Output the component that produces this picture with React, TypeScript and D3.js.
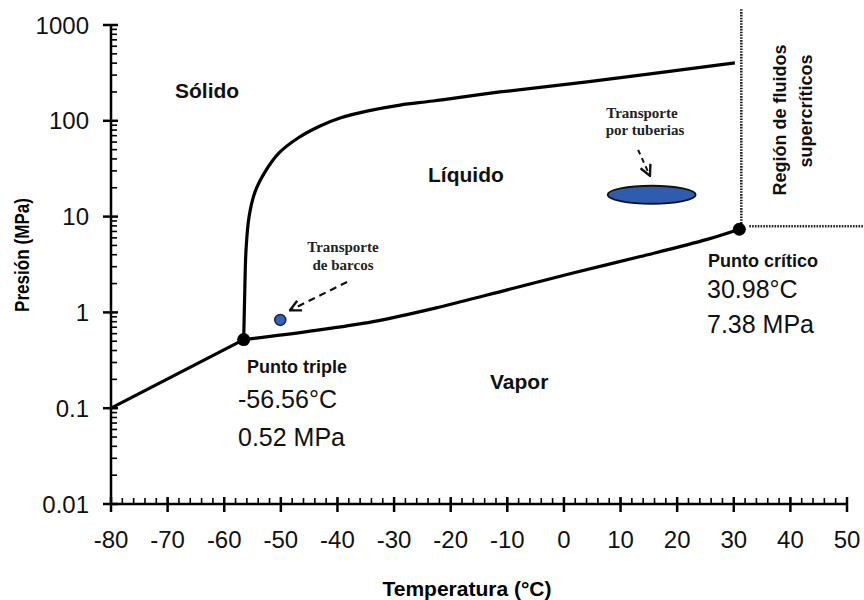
import React from 'react'
import * as d3 from 'd3'

// Diagrama de fases del CO2 (presión en escala logarítmica)

const tempTicks = d3.range(-80, 51, 10)
const tempMinorTicks = d3.range(-80, 51, 2)
const presTicks = [0.01, 0.1, 1, 10, 100, 1000]
const presTickLabels = ['0.01', '0.1', '1', '10', '100', '1000']

// curva sólido-vapor (sublimación)
const sublimation: [number, number][] = [
  [-80, 0.1],
  [-56.56, 0.52],
]

// curva sólido-líquido (fusión)
const melting: [number, number][] = [
  [-56.56, 0.52], [-56.4, 1.4], [-56.15, 4.49], [-55.62, 9.93], [-54.56, 18.1],
  [-52.79, 29.3], [-50.32, 46.2], [-46.96, 66.2], [-43.07, 88.3], [-39.54, 107],
  [-34.59, 127], [-28.94, 146], [-23.1, 161], [-11.3, 200], [4.1, 255], [30.2, 402],
]

// curva líquido-vapor (vaporización)
const vaporization: [number, number][] = [
  [-56.56, 0.52], [-45.4, 0.63], [-33.7, 0.8], [-21.9, 1.14], [-10, 1.72],
  [1.6, 2.58], [13.5, 3.83], [25.3, 5.78], [30.98, 7.38],
]

const triplePoint: [number, number] = [-56.56, 0.52]
const criticalPoint: [number, number] = [30.98, 7.38]

// zonas de transporte
const shipPoint: [number, number] = [-50.1, 0.835]
const pipeZone: [number, number] = [15.5, 16.9]
const shipArrow: [number, number][] = [[-38.3, 2.08], [-48.4, 1.05]]
const pipeArrow: [number, number][] = [[13.1, 49.7], [15.2, 26.6]]

const W = 864
const H = 600
const sans = 'Liberation Sans, Arial, sans-serif'
const serif = 'Liberation Serif, Times New Roman, serif'

export default function App() {
  const x = d3.scaleLinear().domain([-80, 50]).range([111, 847])
  const y = d3.scaleLog().domain([0.01, 1000]).range([504, 25])

  const line = d3.line<[number, number]>()
    .x(d => x(d[0]))
    .y(d => y(d[1]))
  const smooth = d3.line<[number, number]>()
    .x(d => x(d[0]))
    .y(d => y(d[1]))
    .curve(d3.curveCatmullRom.alpha(0.5))

  const yMinor: number[] = []
  for (let e = -2; e < 3; e++) {
    for (let k = 2; k <= 9; k++) yMinor.push(k * Math.pow(10, e))
  }

  const cx = x(criticalPoint[0])
  const cy = y(criticalPoint[1])

  return (
    <svg width={W} height={H} style={{ position: 'absolute', left: 0, top: 0, background: '#fff' }}
      fontFamily={sans}>
      <defs>
        <marker id="chev" viewBox="0 0 12 12" refX="11" refY="6" markerWidth="13" markerHeight="13"
          markerUnits="userSpaceOnUse" orient="auto">
          <path d="M1,1 L11,6 L1,11" fill="none" stroke="#111" strokeWidth="2.2" />
        </marker>
      </defs>

      {/* líneas punteadas de la región supercrítica */}
      <line x1={cx + 2} x2={cx + 2} y1={cy} y2={8} stroke="#222" strokeWidth={2.6} strokeDasharray="1.6,1.2" />
      <line x1={cx + 10} x2={W} y1={cy - 3} y2={cy - 3} stroke="#222" strokeWidth={2.6} strokeDasharray="1.6,1.2" />

      {/* ejes */}
      <line x1={x(-80)} x2={x(-80)} y1={y(1000)} y2={y(0.01)} stroke="#000" strokeWidth={2.5} />
      <line x1={x(-80)} x2={x(50)} y1={y(0.01)} y2={y(0.01)} stroke="#000" strokeWidth={2.5} />
      {yMinor.map((v, i) => (
        <line key={'ym' + i} x1={x(-80)} x2={x(-80) + 6} y1={y(v)} y2={y(v)} stroke="#000" strokeWidth={1.6} />
      ))}
      {presTicks.map((v, i) => (
        <g key={'yt' + i}>
          <line x1={x(-80) - 8} x2={x(-80) + 7} y1={y(v)} y2={y(v)} stroke="#000" strokeWidth={2.5} />
          <text x={89} y={y(v) + 8.5} textAnchor="end" fontSize={24} fill="#111">{presTickLabels[i]}</text>
        </g>
      ))}
      {tempMinorTicks.map((v, i) => (
        <line key={'xm' + i} x1={x(v)} x2={x(v)} y1={y(0.01)} y2={y(0.01) - 6} stroke="#000" strokeWidth={1.6} />
      ))}
      {tempTicks.map((v, i) => (
        <g key={'xt' + i}>
          <line x1={x(v)} x2={x(v)} y1={y(0.01) - 7} y2={y(0.01) + 8} stroke="#000" strokeWidth={2.5} />
          <text x={x(v)} y={548} textAnchor="middle" fontSize={24} fill="#111">{v}</text>
        </g>
      ))}

      <text transform="translate(29,255) rotate(-90)" textAnchor="middle" fontSize={20} fontWeight="bold"
        textLength={114} lengthAdjust="spacingAndGlyphs">Presión (MPa)</text>
      <text x={467} y={596} textAnchor="middle" fontSize={21} fontWeight="bold">Temperatura (°C)</text>

      {/* curvas de equilibrio */}
      <path d={line(sublimation) || ''} fill="none" stroke="#000" strokeWidth={3.2} />
      <path d={smooth(melting) || ''} fill="none" stroke="#000" strokeWidth={3.2} />
      <path d={smooth(vaporization) || ''} fill="none" stroke="#000" strokeWidth={3.2} />
      <circle cx={x(triplePoint[0])} cy={y(triplePoint[1])} r={6.5} fill="#000" />
      <circle cx={cx} cy={cy} r={6.5} fill="#000" />

      {/* transporte */}
      <circle cx={x(shipPoint[0])} cy={y(shipPoint[1])} r={5.5} fill="#3563b5" stroke="#1a2440" strokeWidth={1.5} />
      <ellipse cx={x(pipeZone[0])} cy={y(pipeZone[1])} rx={44} ry={9} fill="#2f5cae" stroke="#111" strokeWidth={1.8} />
      <path d={line(shipArrow) || ''} fill="none" stroke="#111" strokeWidth={2.2} strokeDasharray="7,5"
        markerEnd="url(#chev)" />
      <path d={line(pipeArrow) || ''} fill="none" stroke="#111" strokeWidth={2} strokeDasharray="5,4"
        markerEnd="url(#chev)" />
      <g fontFamily={serif} fontWeight="bold" fontSize={15} fill="#222" textAnchor="middle">
        <text x={343} y={252}>Transporte</text>
        <text x={343} y={270}>de barcos</text>
        <text x={642} y={118}>Transporte</text>
        <text x={645} y={135}>por tuberias</text>
      </g>

      {/* regiones */}
      <g fontWeight="bold" fontSize={21} fill="#111">
        <text x={175} y={98}>Sólido</text>
        <text x={428} y={182}>Líquido</text>
        <text x={490} y={389}>Vapor</text>
      </g>
      <g fontWeight="bold" fontSize={18} fill="#111" textAnchor="middle">
        <text transform="translate(786,120) rotate(-90)">Región de fluidos</text>
        <text transform="translate(812,111) rotate(-90)">supercríticos</text>
      </g>

      {/* puntos triple y crítico */}
      <text x={247} y={373} fontSize={18} fontWeight="bold" fill="#111">Punto triple</text>
      <text x={238} y={408} fontSize={25} fill="#111">-56.56°C</text>
      <text x={238} y={446} fontSize={25} fill="#111">0.52 MPa</text>
      <text x={708} y={267} fontSize={18} fontWeight="bold" fill="#111">Punto crítico</text>
      <text x={707} y={298} fontSize={25} fill="#111">30.98°C</text>
      <text x={707} y={333} fontSize={25} fill="#111">7.38 MPa</text>
    </svg>
  )
}
